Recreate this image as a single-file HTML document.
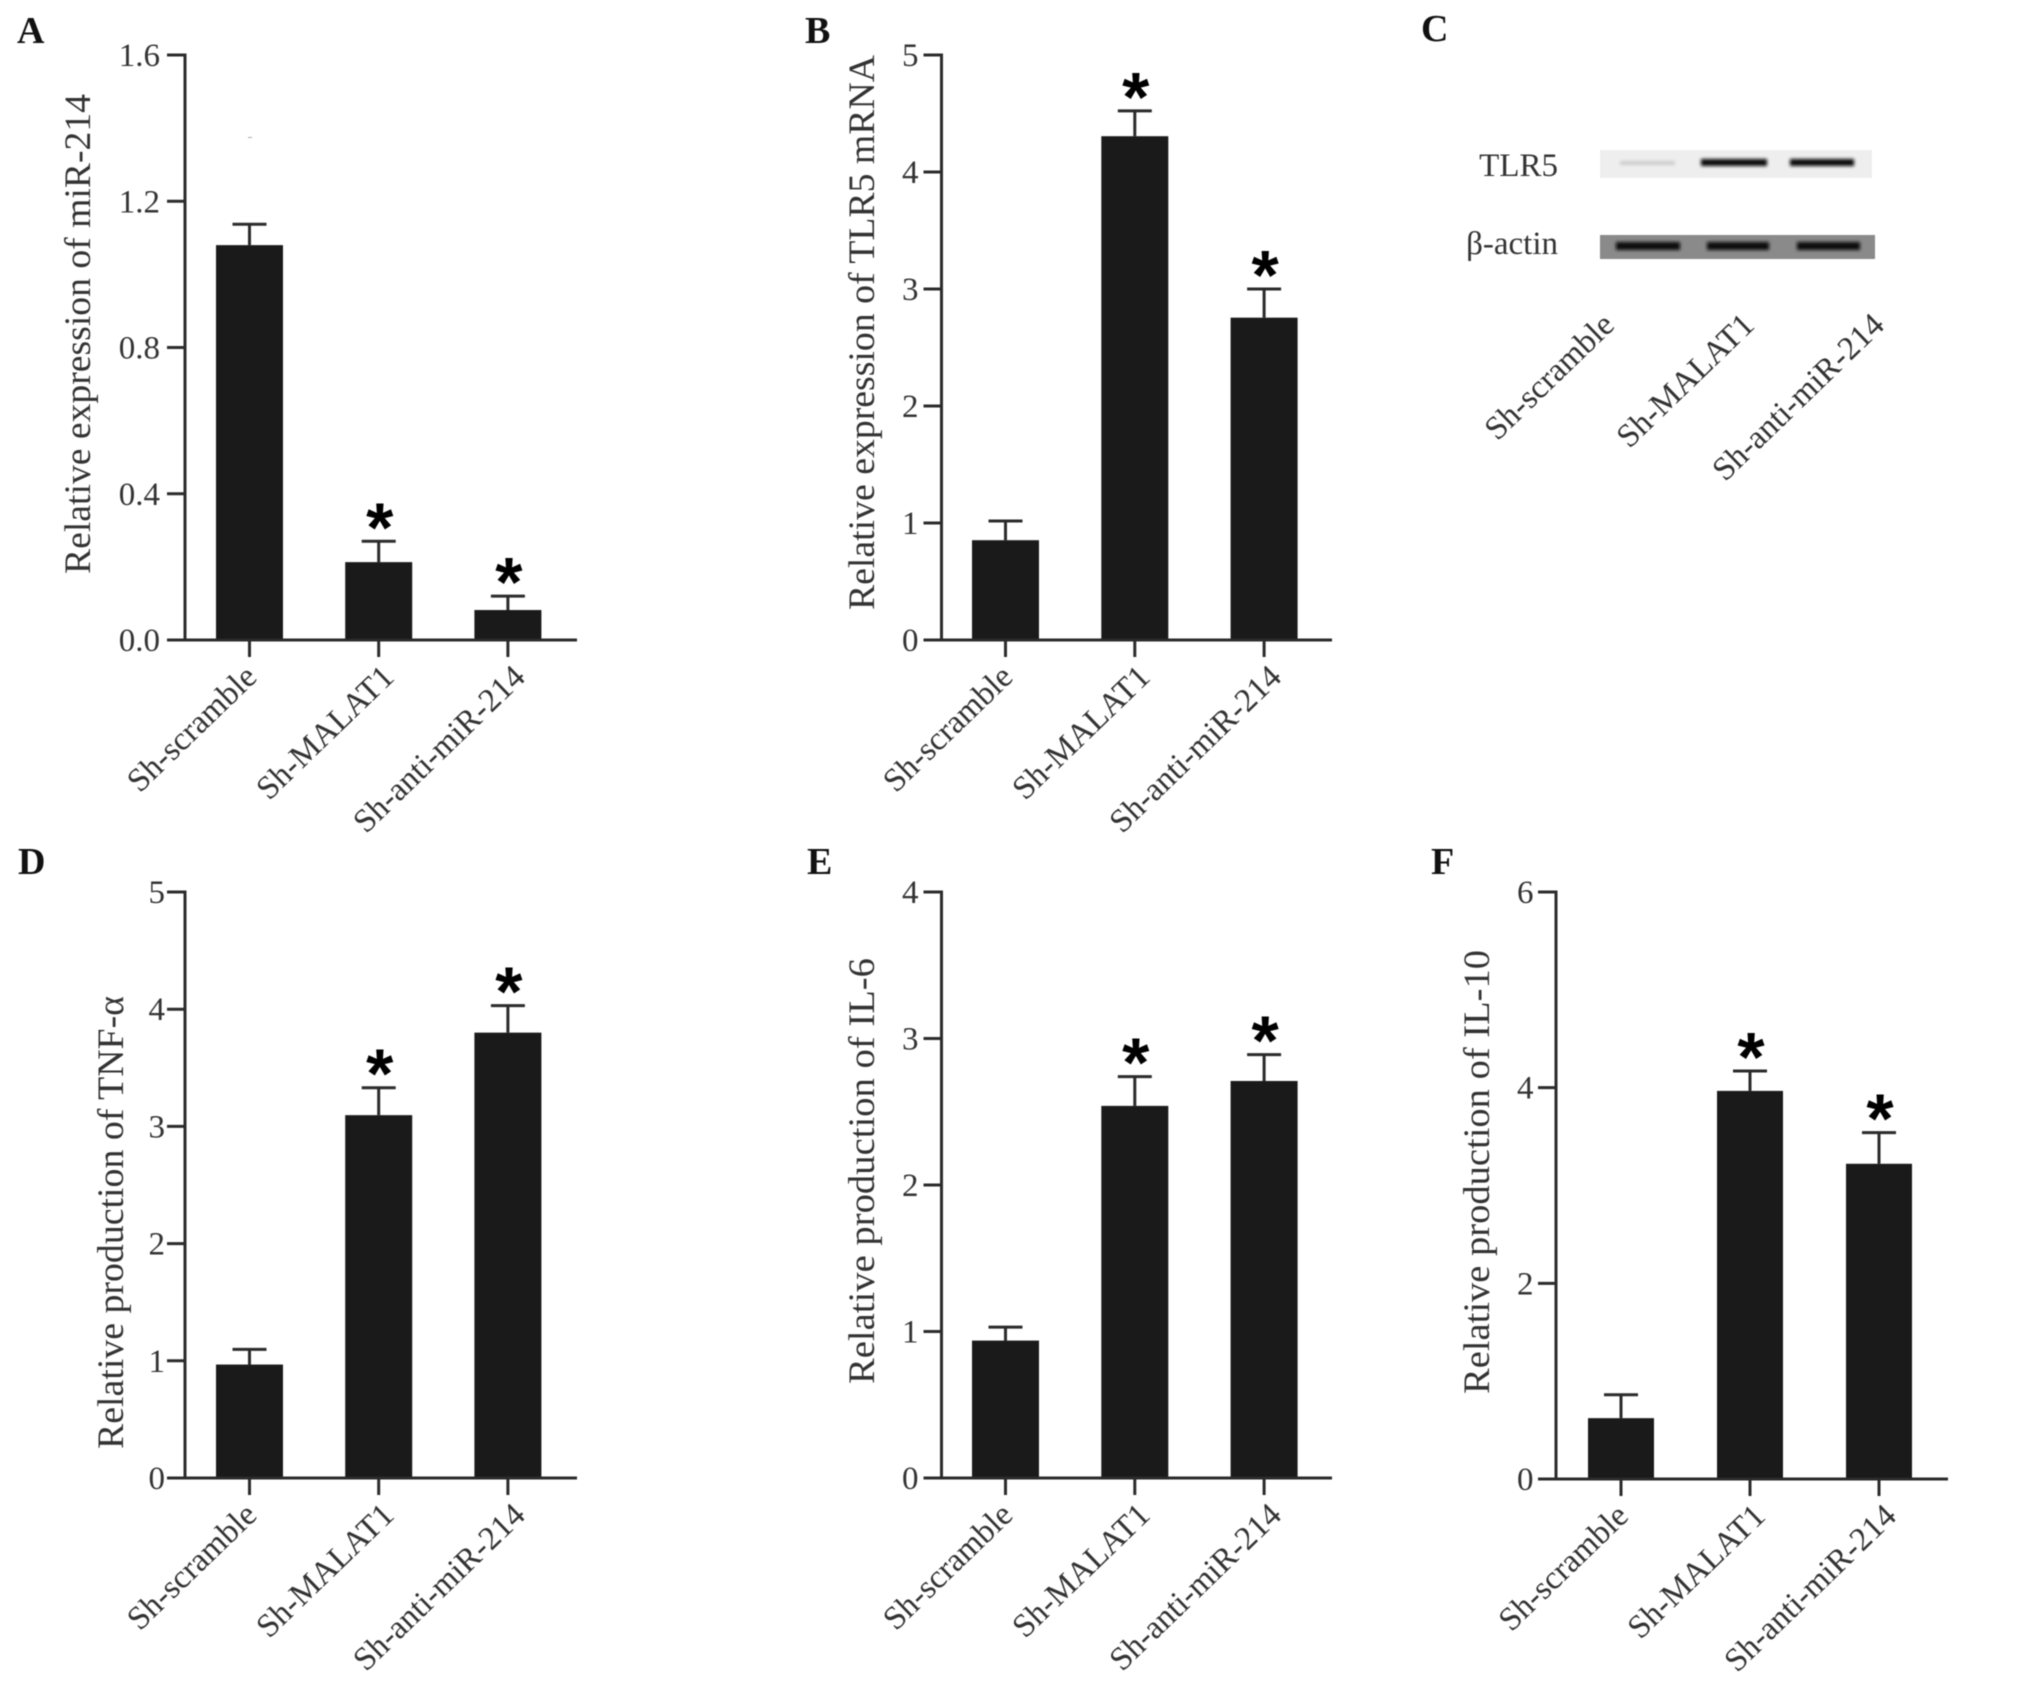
<!DOCTYPE html>
<html lang="en">
<head>
<meta charset="utf-8">
<title>Relative expression and production panels A–F</title>
<style>
html,body{margin:0;padding:0;background:#fff;width:2031px;height:1691px;overflow:hidden}
svg{display:block;filter:blur(0.6px)}
text{font-family:"Liberation Serif",serif;fill:#333}
.tick-label{font-size:33px}
.blot-label{font-size:33px}
.x-label{font-size:33px}
.y-title{font-size:37px}
.panel-letter{font-size:38px;font-weight:bold;fill:#111}
.star{font-family:"Liberation Sans",sans-serif;font-weight:bold;font-size:70px;fill:#000;text-anchor:middle}
</style>
</head>
<body>
<svg id="figure" xmlns="http://www.w3.org/2000/svg" width="2031" height="1691" viewBox="0 0 2031 1691">
  <defs><filter id="soft" x="-20%" y="-100%" width="140%" height="300%"><feGaussianBlur stdDeviation="1.6"></feGaussianBlur></filter></defs>
  <rect width="2031" height="1691" fill="#fff"></rect>
  <g id="western-blot">
    <text class="panel-letter" x="1421" y="41">C</text>
    <text class="blot-label" x="1558" y="176" text-anchor="end">TLR5</text>
    <text class="blot-label" x="1558" y="254" text-anchor="end">β-actin</text>
    <rect x="1600" y="150" width="272" height="28" fill="#eeeeee"></rect>
    <rect x="1620" y="161" width="55" height="4" fill="#cccccc" filter="url(#soft)"></rect>
    <rect x="1701" y="159" width="66" height="7" fill="#111" filter="url(#soft)"></rect>
    <rect x="1790" y="159" width="64" height="7" fill="#111" filter="url(#soft)"></rect>
    <rect x="1600" y="235" width="275" height="24" fill="#8a8a8a"></rect>
    <rect x="1616" y="242" width="64" height="8" fill="#0a0a0a" filter="url(#soft)"></rect>
    <rect x="1707" y="242" width="62" height="8" fill="#0a0a0a" filter="url(#soft)"></rect>
    <rect x="1797" y="242" width="63" height="8" fill="#0a0a0a" filter="url(#soft)"></rect>
    <text class="x-label" text-anchor="end" transform="translate(1616 327) rotate(-44)">Sh-scramble</text>
    <text class="x-label" text-anchor="end" transform="translate(1756 327) rotate(-44)">Sh-MALAT1</text>
    <text class="x-label" text-anchor="end" transform="translate(1886 327) rotate(-44)">Sh-anti-miR-214</text>
  </g>
  <rect x="248" y="137" width="4" height="1" fill="#aaa"></rect>
</svg>
<script>
const categories = ['Sh-scramble', 'Sh-MALAT1', 'Sh-anti-miR-214'];

const aValues = [1.08, 0.213, 0.082];
const aUpper = [1.137, 0.27, 0.12];
const aStars = [false, true, true];
const aTicks = ['0.0', '0.4', '0.8', '1.2', '1.6'];

const bValues = [0.853, 4.306, 2.755];
const bUpper = [1.017, 4.522, 3.0];
const bStars = [false, true, true];
const bTicks = ['0', '1', '2', '3', '4', '5'];

const dValues = [0.968, 3.096, 3.80];
const dUpper = [1.098, 3.33, 4.03];
const dStars = [false, true, true];
const dTicks = ['0', '1', '2', '3', '4', '5'];

const eValues = [0.938, 2.54, 2.71];
const eUpper = [1.03, 2.74, 2.89];
const eStars = [false, true, true];
const eTicks = ['0', '1', '2', '3', '4'];

const fValues = [0.622, 3.967, 3.222];
const fUpper = [0.861, 4.17, 3.54];
const fStars = [false, true, true];
const fTicks = ['0', '2', '4', '6'];

const panels = [
  {id:'a', letter:'A', letterX:17, letterY:43, title:'Relative expression of miR-214', values:aValues, upper:aUpper, stars:aStars, ticks:aTicks,
   axisX:185, right:577, top:55, bottom:640, first:249.5, step:129.2, barW:67, titleX:90, titleTop:94, titleBottom:574, labelRight:160},
  {id:'b', letter:'B', letterX:805, letterY:43, title:'Relative expression of TLR5 mRNA', values:bValues, upper:bUpper, stars:bStars, ticks:bTicks,
   axisX:941.5, right:1332, top:55, bottom:640, first:1005.5, step:129.3, barW:67, titleX:874, titleTop:55, titleBottom:610, labelRight:918.5},
  {id:'d', letter:'D', letterX:18, letterY:874, title:'Relative production of TNF-α', values:dValues, upper:dUpper, stars:dStars, ticks:dTicks,
   axisX:185, right:577, top:892, bottom:1478, first:249.5, step:129.2, barW:67, titleX:123, titleTop:996, titleBottom:1449, labelRight:165},
  {id:'e', letter:'E', letterX:807, letterY:874, title:'Relative production of IL-6', values:eValues, upper:eUpper, stars:eStars, ticks:eTicks,
   axisX:941.5, right:1332, top:892, bottom:1478, first:1005.5, step:129.3, barW:67, titleX:874, titleTop:958, titleBottom:1384, labelRight:918.5},
  {id:'f', letter:'F', letterX:1431, letterY:874, title:'Relative production of IL-10', values:fValues, upper:fUpper, stars:fStars, ticks:fTicks,
   axisX:1556, right:1948, top:892, bottom:1479, first:1621, step:129, barW:66, titleX:1489, titleTop:950, titleBottom:1394, labelRight:1533.5}
];

const labelNudge = {0: 9, 1: 17, 2: 19};

const SVG_NS = 'http://www.w3.org/2000/svg';
const figure = document.getElementById('figure');
const INK = '#2b2b2b';

function make(tag, attrs, parent, text) {
  const node = document.createElementNS(SVG_NS, tag);
  Object.keys(attrs).forEach(function (k) { node.setAttribute(k, attrs[k]); });
  if (text !== undefined) node.textContent = text;
  parent.appendChild(node);
  return node;
}

function yScale(panel) {
  const max = parseFloat(panel.ticks[panel.ticks.length - 1]);
  return function (v) { return panel.bottom - (v / max) * (panel.bottom - panel.top); };
}

function xScale(panel) {
  return function (i) { return panel.first + i * panel.step; };
}

function drawPanel(p) {
  const y = yScale(p);
  const x = xScale(p);
  const g = make('g', {}, figure);
  
  

  const letter = make('text', {class:'panel-letter', x:p.letterX, y:p.letterY}, g, p.letter);
  
  

  const midY = (p.titleTop + p.titleBottom) / 2;
  const title = make('text', {class:'y-title', 'text-anchor':'middle', textLength:p.titleBottom - p.titleTop, lengthAdjust:'spacingAndGlyphs',
    transform:'translate(' + p.titleX + ' ' + midY + ') rotate(-90)'}, g, p.title);
  
  

  categories.forEach(function (name, i) {
    const cx = x(i);
    const top = y(p.values[i]);
    const upper = y(p.upper[i]);

    const stem = make('line', {x1:cx, x2:cx, y1:top, y2:upper, stroke:INK, 'stroke-width':3}, g);
    
    

    const cap = make('line', {x1:cx - 17, x2:cx + 17, y1:upper, y2:upper, stroke:INK, 'stroke-width':3}, g);
    
    

    const bar = make('rect', {x:cx - p.barW / 2, y:top, width:p.barW, height:p.bottom - top, fill:'#1a1a1a'}, g);
    
    

    const tick = make('line', {x1:cx, x2:cx, y1:p.bottom, y2:p.bottom + 17, stroke:INK, 'stroke-width':3}, g);
    
    

    const label = make('text', {class:'x-label', 'text-anchor':'end',
      transform:'translate(' + (cx + labelNudge[i]) + ' ' + (p.bottom + 39) + ') rotate(-44)'}, g, name);
    
    

    if (p.stars[i]) {
      const star = make('text', {class:'star', x:cx + 1, y:upper + 10}, g, '*');
      
      
    }
  });

  p.ticks.forEach(function (t) {
    const ty = y(parseFloat(t));
    const tick = make('line', {x1:p.axisX - 18, x2:p.axisX, y1:ty, y2:ty, stroke:INK, 'stroke-width':3}, g);
    
    

    const label = make('text', {class:'tick-label', x:p.labelRight, y:ty + 11, 'text-anchor':'end'}, g, t);
    
    
  });

  const yAxis = make('line', {x1:p.axisX, x2:p.axisX, y1:p.top - 1.5, y2:p.bottom + 1.5, stroke:INK, 'stroke-width':3}, g);
  
  

  const xAxis = make('line', {x1:p.axisX - 18, x2:p.right, y1:p.bottom, y2:p.bottom, stroke:INK, 'stroke-width':3}, g);
  
  
}

panels.forEach(drawPanel);
</script>
</body>
</html>
